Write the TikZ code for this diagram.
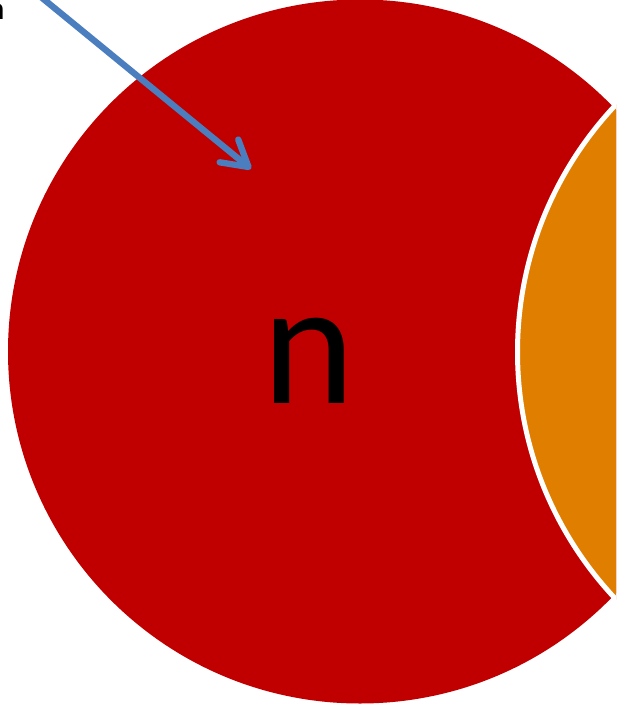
\documentclass[tikz,border=0pt]{standalone}
\usepackage{fontspec}
\setmainfont{Carlito}
\usetikzlibrary{arrows.meta}
\definecolor{vred}{HTML}{C00000}
\definecolor{vorange}{HTML}{E07E00}
\definecolor{vblue}{HTML}{4A7EBF}
\begin{document}
\begin{tikzpicture}[x=0.75pt,y=-0.75pt,
  setred/.style={fill=vred},
  setorange/.style={fill=vorange, draw=white, line width=3.75pt},
  pointer/.style={draw=vblue, line width=4.75pt, line cap=round,
    -{Straight Barb[length=19pt,width=22pt,round]}}]
\useasboundingbox (0,0) rectangle (616,705);
\clip (0,0) rectangle (616,705);
\fill[setred] (360,351.5) circle[radius=352];
\filldraw[setorange] (877.5,352) circle[radius=360];
\node[inner sep=0, font=\fontsize{132}{132}\selectfont] (big) at (308.5,361) {n};
\node[inner sep=0, anchor=base east, font=\fontsize{24}{24}\selectfont] (lbl) at (5,20) {n};
\coordinate (start) at (8,-30);
\coordinate (tip) at (251,169);
\draw[pointer] (start) -- (tip);
\end{tikzpicture}
\end{document}
